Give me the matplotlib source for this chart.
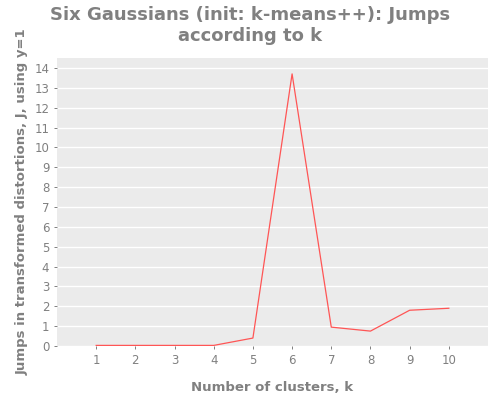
import matplotlib
matplotlib.use("Agg")
import matplotlib.pyplot as plt

k_values = [1, 2, 3, 4, 5, 6, 7, 8, 9, 10]
jumps = [0.03, 0.03, 0.03, 0.03, 0.4, 13.7, 0.95, 0.75, 1.8, 1.9]

plt.rcParams["font.family"] = ["DejaVu Sans"]
grey = "#808080"

fig = plt.figure(figsize=(5, 4), dpi=100)
ax = fig.add_axes([0.114, 0.135, 0.862, 0.72])
ax.set_facecolor("#EBEBEB")
ax.plot(k_values, jumps, color="#FF5555", linewidth=0.9)
ax.set_xlim(0, 11)
ax.set_ylim(0, 14.5)
ax.set_xticks(k_values)
ax.set_yticks(range(0, 15))
ax.grid(axis="y", color="white", linewidth=1)
ax.set_axisbelow(True)
for s in ax.spines.values():
    s.set_visible(False)
ax.tick_params(colors=grey, labelsize=8.5, length=2, width=0.7)
ax.set_xlabel("Number of clusters, k", color=grey, fontsize=9.5, fontweight="bold", labelpad=10)
ax.set_ylabel("Jumps in transformed distortions, J, using y=1", color=grey,
              fontsize=9.5, fontweight="bold")
fig.suptitle("Six Gaussians (init: k-means++): Jumps\naccording to k", color=grey,
             fontsize=13, fontweight="bold", y=0.985)
fig.savefig("out.png", dpi=100)
